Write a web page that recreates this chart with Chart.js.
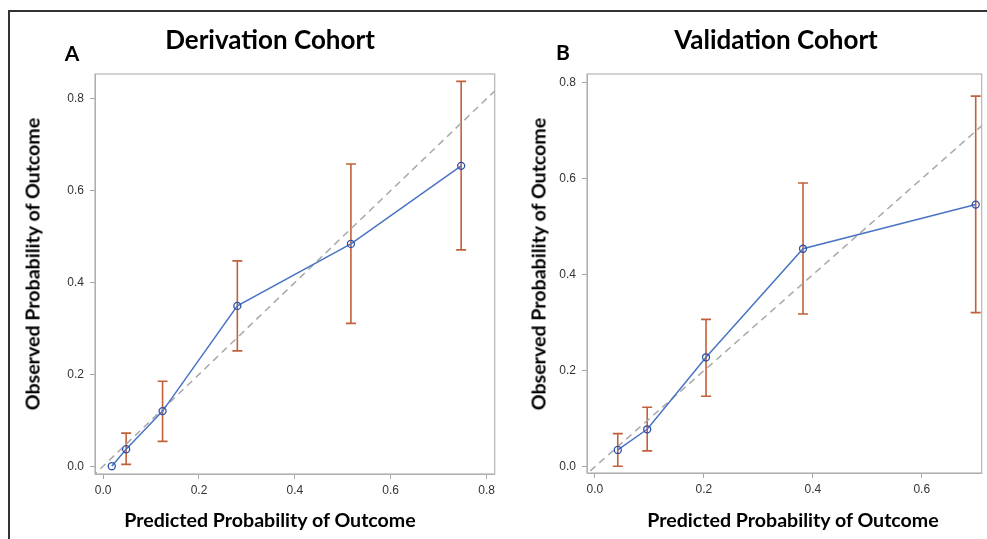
<!DOCTYPE html>
<html>
<head>
<meta charset="utf-8">
<script src="https://cdn.jsdelivr.net/npm/chart.js@4"></script>
<style>
  body { margin: 0; background: #fff; width: 987px; height: 539px; overflow: hidden; position: relative; font-family: Lato, "Open Sans", sans-serif; }
  canvas { position: absolute; top: 0; }
  .frame { position: absolute; left: 8px; top: 10px; width: 990px; height: 540px; border-left: 2px solid #333; border-top: 2px solid #333; }
  .t { position: absolute; font-weight: bold; color: #000; white-space: nowrap; transform: translate(-50%, -50%); }
  .big { font-size: 26px; }
  .ax { font-size: 19.6px; }
  .yt { transform: translate(-50%, -50%) rotate(-90deg); }
  .lab { font-size: 21px; }
</style>
</head>
<body>
<div class="frame"></div>
<canvas id="derivChart" width="500" height="539" style="left:0"></canvas>
<canvas id="validChart" width="487" height="539" style="left:500px"></canvas>

<div class="t lab" style="left:72px; top:52px">A</div>
<div class="t big" style="left:270px; top:39px">Derivation Cohort</div>
<div class="t ax yt" style="left:32px; top:264px">Observed Probability of Outcome</div>
<div class="t ax" style="left:270px; top:519px">Predicted Probability of Outcome</div>

<div class="t lab" style="left:563px; top:51px">B</div>
<div class="t big" style="left:776px; top:39px">Validation Cohort</div>
<div class="t ax yt" style="left:538px; top:264px">Observed Probability of Outcome</div>
<div class="t ax" style="left:793px; top:519px">Predicted Probability of Outcome</div>

<script>
// Derivation cohort (panel A)
const derivPredicted = [0.018, 0.048, 0.124, 0.280, 0.517, 0.747];
const derivObserved  = [0.000, 0.037, 0.120, 0.349, 0.484, 0.654];
const derivLower     = [null,  0.004, 0.054, 0.251, 0.311, 0.471];
const derivUpper     = [null,  0.072, 0.185, 0.447, 0.658, 0.838];
const derivXTicks = [0, 0.2, 0.4, 0.6, 0.8];
const derivYTicks = [0, 0.2, 0.4, 0.6, 0.8];

// Validation cohort (panel B)
const validPredicted = [0.042, 0.096, 0.204, 0.382, 0.699];
const validObserved  = [0.035, 0.078, 0.228, 0.454, 0.546];
const validLower     = [0.001, 0.033, 0.147, 0.318, 0.321];
const validUpper     = [0.069, 0.124, 0.307, 0.591, 0.772];
const validXTicks = [0, 0.2, 0.4, 0.6];
const validYTicks = [0, 0.2, 0.4, 0.6, 0.8];

// reference line of perfect calibration
const diagonal = [-1, 2];

const AXIS_GREY = '#a6a6a6';

// draws the confidence interval whiskers using the chart scales
const errorBars = {
  id: 'errorBars',
  beforeDatasetsDraw(chart, args, opts) {
    const { ctx, scales: { x, y } } = chart;
    ctx.save();
    ctx.strokeStyle = '#c0613a';
    ctx.lineWidth = 1.6;
    opts.xs.forEach((v, i) => {
      if (opts.lo[i] == null) return;
      const px = x.getPixelForValue(v);
      const top = y.getPixelForValue(opts.hi[i]);
      const bot = y.getPixelForValue(opts.lo[i]);
      ctx.beginPath();
      ctx.moveTo(px, top); ctx.lineTo(px, bot);
      ctx.moveTo(px - 5, top); ctx.lineTo(px + 5, top);
      ctx.moveTo(px - 5, bot); ctx.lineTo(px + 5, bot);
      ctx.stroke();
    });
    ctx.restore();
  }
};

// grey box round the plot area
const plotFrame = {
  id: 'plotFrame',
  afterDraw(chart) {
    const { ctx, chartArea: a } = chart;
    ctx.save();
    ctx.strokeStyle = '#b4b4b4';
    ctx.lineWidth = 1.2;
    ctx.strokeRect(a.left, a.top, a.right - a.left, a.bottom - a.top);
    ctx.restore();
  }
};

function makeChart(id, xs, ys, lo, hi, xTicks, yTicks, xRange, yRange, yWidth, xHeight, padRight) {
  const tickFont = { family: 'Liberation Sans, Arial, sans-serif', size: 12 };
  return new Chart(document.getElementById(id), {
    type: 'scatter',
    data: {
      datasets: [
        {
          data: xs.map((v, i) => ({ x: v, y: ys[i] })),
          showLine: true,
          borderColor: '#4a74c4',
          borderWidth: 1.5,
          pointRadius: 3.5,
          pointBorderColor: '#2d4fa6',
          pointBorderWidth: 1.3,
          pointBackgroundColor: 'rgba(0,0,0,0)'
        },
        {
          data: diagonal.map(v => ({ x: v, y: v })),
          showLine: true,
          borderColor: '#a8a8a8',
          borderWidth: 1.5,
          borderDash: [7, 5],
          pointRadius: 0,
          clip: 0
        }
      ]
    },
    options: {
      responsive: false,
      animation: false,
      layout: { padding: { left: 0, top: 74, right: padRight, bottom: 0 } },
      plugins: {
        legend: { display: false },
        tooltip: { enabled: false },
        errorBars: { xs: xs, lo: lo, hi: hi }
      },
      scales: {
        x: {
          type: 'linear',
          min: xRange[0], max: xRange[1],
          afterBuildTicks: s => { s.ticks = xTicks.map(v => ({ value: v })); },
          afterFit: s => { s.height = xHeight; },
          grid: { drawOnChartArea: false, tickLength: 5, color: AXIS_GREY },
          border: { color: AXIS_GREY },
          ticks: { color: '#333', font: tickFont, padding: 4, maxRotation: 0, callback: v => v.toFixed(1) }
        },
        y: {
          type: 'linear',
          min: yRange[0], max: yRange[1],
          afterBuildTicks: s => { s.ticks = yTicks.map(v => ({ value: v })); },
          afterFit: s => { s.width = yWidth; },
          grid: { drawOnChartArea: false, tickLength: 5, color: AXIS_GREY },
          border: { color: AXIS_GREY },
          ticks: { color: '#333', font: tickFont, padding: 6, callback: v => v.toFixed(1) }
        }
      }
    },
    plugins: [errorBars, plotFrame]
  });
}

makeChart('derivChart', derivPredicted, derivObserved, derivLower, derivUpper,
  derivXTicks, derivYTicks, [-0.017, 0.817], [-0.017, 0.854], 95, 65, 5);
makeChart('validChart', validPredicted, validObserved, validLower, validUpper,
  validXTicks, validYTicks, [-0.0145, 0.710], [-0.013, 0.818], 87, 66, 1);
</script>
</body>
</html>
